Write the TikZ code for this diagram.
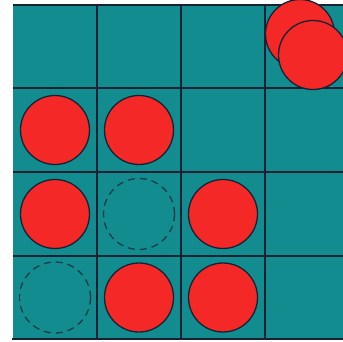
\documentclass[tikz,border=0pt]{standalone}
\usepackage{xcolor}
\usepackage{tikz}
\definecolor{boardteal}{RGB}{18,140,142}
\definecolor{discred}{RGB}{245,40,40}
\definecolor{gridnavy}{RGB}{22,34,52}
\tikzset{
  disc/.style={circle, draw=gridnavy, fill=discred, line width=1.3pt,
    minimum size=69pt, inner sep=0pt},
  emptydisc/.style={circle, draw=gridnavy!75!boardteal, line width=1.3pt,
    dash pattern=on 7pt off 5pt, minimum size=71pt, inner sep=0pt},
  gridline/.style={draw=gridnavy, line width=1.6pt},
}

\begin{document}
\begin{tikzpicture}[x=1pt, y=1pt]
  \useasboundingbox (0,0) rectangle (343,341);
  \clip (0,0) rectangle (343,341);

  % Board
  \fill[boardteal] (13,2) rectangle (350,336);
  \draw[gridline] (13,336) -- (350,336);
  \draw[gridline] (12,2) -- (350,2);
  \draw[gridline] (13,253) -- (350,253);
  \draw[gridline] (13,169) -- (350,169);
  \draw[gridline] (13,85) -- (350,85);
  \draw[gridline] (97,2) -- (97,336);
  \draw[gridline] (181,2) -- (181,336);
  \draw[gridline] (265,2) -- (265,336);

  % Discs, row by row from the top
  \node[disc] (drop1) at (300,307) {};
  \node[disc] (drop2) at (313,286) {};

  \node[disc] (r2c1) at (55,211) {};
  \node[disc] (r2c2) at (139,211) {};

  \node[disc] (r3c1) at (55,127) {};
  \node[emptydisc] (r3c2) at (139,127) {};
  \node[disc] (r3c3) at (223,127) {};

  \node[emptydisc] (r4c1) at (55,43.5) {};
  \node[disc] (r4c2) at (139,43.5) {};
  \node[disc] (r4c3) at (223,43.5) {};

\end{tikzpicture}
\end{document}
